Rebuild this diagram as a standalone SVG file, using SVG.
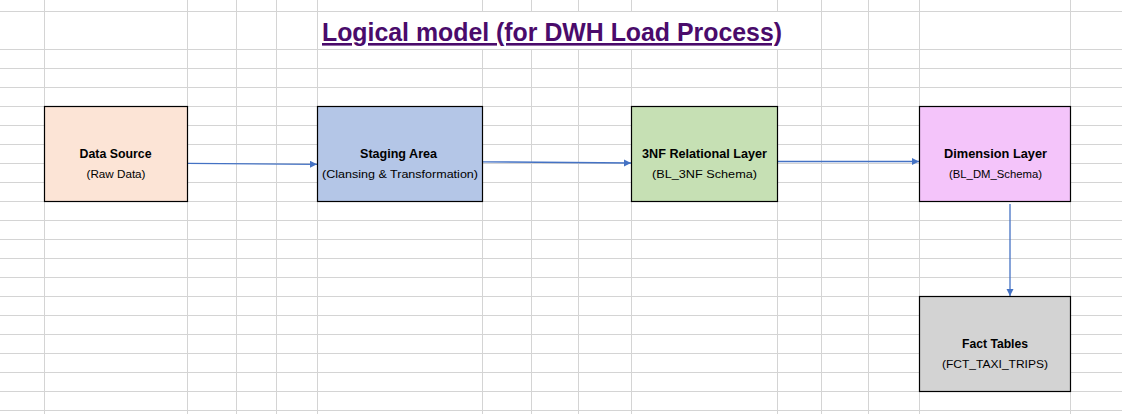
<svg xmlns="http://www.w3.org/2000/svg" width="1122" height="414" viewBox="0 0 1122 414">
<defs>
<style>
.g{stroke:#d4d4d4;stroke-width:1;fill:none}
.box{stroke:#000;stroke-width:1.2}
.t1{font-family:"Liberation Sans",Arial,sans-serif;font-weight:bold;font-size:12.5px;fill:#000;text-anchor:middle}
.t2{font-family:"Liberation Sans",Arial,sans-serif;font-size:11px;fill:#000;text-anchor:middle}
.c{stroke:#4472c4;stroke-width:1.3;fill:none;marker-end:url(#ah)}
</style>
<marker id="ah" markerWidth="8" markerHeight="8" refX="7" refY="3.5" orient="auto" markerUnits="userSpaceOnUse">
<path d="M0,0 L7,3.5 L0,7 Z" fill="#4472c4"/>
</marker>
</defs>
<rect x="0" y="0" width="1122" height="414" fill="#fff"/>
<g id="grid" class="g">
<path d="M0,11.5H1122M0,49.5H1122M0,68.5H1122M0,87.5H1122M0,106.5H1122M0,125.5H1122M0,144.5H1122M0,163.5H1122M0,182.5H1122M0,201.5H1122M0,220.5H1122M0,239.5H1122M0,258.5H1122M0,277.5H1122M0,296.5H1122M0,315.5H1122M0,334.5H1122M0,353.5H1122M0,372.5H1122M0,391.5H1122M0,410.5H1122"/>
<path d="M44.5,0V414M187.5,0V414M236.5,0V414M276.5,0V414M317.5,0V414M821.5,0V414M868.5,0V414M919.5,0V414M1070.5,0V414"/>
<path d="M482.5,0V11M531.5,0V11M578.5,0V11M631.5,0V11M777.5,0V11M482.5,49V414M531.5,49V414M578.5,49V414M631.5,49V414M777.5,49V414"/>
</g>
<text x="552" y="41" font-family="'Liberation Sans',Arial,sans-serif" font-weight="bold" font-size="26" fill="#4a0b6b" text-anchor="middle" text-decoration="underline" textLength="460" lengthAdjust="spacingAndGlyphs">Logical model (for DWH Load Process)</text>
<g id="connectors">
<path class="c" d="M187,163.3L317,164.3"/>
<path class="c" d="M483,161.8L631,163"/>
<path class="c" d="M777,161.5L919,161.5"/>
<path class="c" d="M1010,204L1010,296"/>
</g>
<g id="data-source">
<rect class="box" x="44.5" y="106.5" width="143" height="95" fill="#fce4d6"/>
<text class="t1" x="115.5" y="158" textLength="72" lengthAdjust="spacingAndGlyphs">Data Source</text>
<text class="t2" x="116" y="178" textLength="59" lengthAdjust="spacingAndGlyphs">(Raw Data)</text>
</g>
<g id="staging-area">
<rect class="box" x="317.5" y="106.5" width="165" height="95" fill="#b4c6e7"/>
<text class="t1" x="398.5" y="158" textLength="77" lengthAdjust="spacingAndGlyphs">Staging Area</text>
<text class="t2" x="400" y="178" textLength="156" lengthAdjust="spacingAndGlyphs">(Clansing &amp; Transformation)</text>
</g>
<g id="3nf-layer">
<rect class="box" x="631.5" y="106.5" width="146" height="95" fill="#c6e0b4"/>
<text class="t1" x="704.5" y="158" textLength="125" lengthAdjust="spacingAndGlyphs">3NF Relational Layer</text>
<text class="t2" x="704.5" y="178" textLength="105" lengthAdjust="spacingAndGlyphs">(BL_3NF Schema)</text>
</g>
<g id="dimension-layer">
<rect class="box" x="919.5" y="106.5" width="151" height="95" fill="#f4c4fa"/>
<text class="t1" x="995.5" y="158" textLength="103" lengthAdjust="spacingAndGlyphs">Dimension Layer</text>
<text class="t2" x="995.5" y="178" textLength="93" lengthAdjust="spacingAndGlyphs">(BL_DM_Schema)</text>
</g>
<g id="fact-tables">
<rect class="box" x="919.5" y="296.5" width="151" height="95" fill="#d3d3d3"/>
<text class="t1" x="995" y="348" textLength="66" lengthAdjust="spacingAndGlyphs">Fact Tables</text>
<text class="t2" x="995" y="368" textLength="106" lengthAdjust="spacingAndGlyphs">(FCT_TAXI_TRIPS)</text>
</g>
</svg>
